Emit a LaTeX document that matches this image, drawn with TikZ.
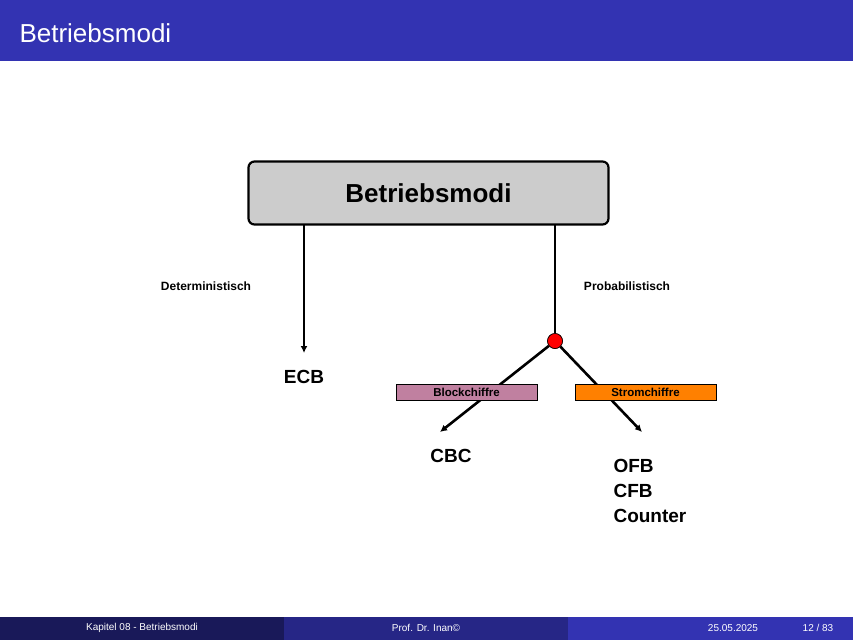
\documentclass[tikz,border=0pt]{standalone}
\usepackage{fontspec}
\setmainfont{Liberation Sans}
\usetikzlibrary{arrows.meta,positioning}
\definecolor{barblue}{RGB}{51,51,178}
\definecolor{footdark}{RGB}{25,25,89}
\definecolor{footmid}{RGB}{38,38,134}
\definecolor{boxgray}{RGB}{204,204,204}
\definecolor{blockrose}{RGB}{192,128,160}
\definecolor{stromorange}{RGB}{255,128,0}
\tikzset{
  branch/.style={line width=2.6pt, -{Latex[length=7pt,width=7pt]}},
  lbl/.style={font=\bfseries\fontsize{12}{14}\selectfont},
  mode/.style={font=\bfseries\fontsize{19}{25}\selectfont, align=left},
  tag/.style={draw, line width=0.6pt, minimum width=141pt, minimum height=16pt, inner sep=0pt, font=\bfseries\fontsize{11.5}{13}\selectfont},
  foot/.style={text=white, font=\fontsize{10}{12}\selectfont}
}
\begin{document}
\begin{tikzpicture}[x=1pt,y=-1pt]
\useasboundingbox (0,0) rectangle (853,640);
% title bar
\fill[barblue] (0,0) rectangle (853,61);
\node[text=white, anchor=west, font=\fontsize{26}{30}\selectfont] (title) at (16,33) {Betriebsmodi};
% footer
\fill[footdark] (0,617) rectangle (284,640);
\fill[footmid] (284,617) rectangle (568,640);
\fill[barblue] (568,617) rectangle (853,640);
\node[foot] (f1) at (142,628) {Kapitel 08 - Betriebsmodi};
\node[foot] (f2) at (426,628) {Prof. Dr. Inan©};
\node[foot] (f3) at (733,628) {25.05.2025};
\node[foot] (f4) at (818,628) {12 / 83};
% main box
\node[draw, line width=2.2pt, fill=boxgray, rounded corners=6pt, minimum width=360pt, minimum height=63pt,
  font=\bfseries\fontsize{26}{30}\selectfont] (root) at (428.5,193) {Betriebsmodi};
\coordinate (lt) at (304,225);
\coordinate (rt) at (555,225);
\coordinate (lend) at (304,353);
\node[circle, fill=red, draw, line width=0.6pt, minimum size=15pt, inner sep=0pt] (fork) at (555,341) {};
\coordinate (cbcend) at (440,432);
\coordinate (ofbend) at (642,432);
\draw[branch] (lt) -- (lend);
\draw[line width=2.6pt] (rt) -- (fork.north);
\draw[branch] (fork) -- (cbcend);
\draw[branch] (fork) -- (ofbend);
\node[fill=red, draw, circle, line width=0.6pt, minimum size=15pt, inner sep=0pt] at (fork) {};
% labels
\node[lbl] (det) at (206,286) {Deterministisch};
\node[lbl] (prob) at (627,286) {Probabilistisch};
\node[tag, fill=blockrose] (block) at (466.5,392) {Blockchiffre};
\node[tag, fill=stromorange] (strom) at (645.5,392) {Stromchiffre};
% modes
\node[mode] (ecb) at (304,377) {ECB};
\node[mode] (cbc) at (451,456) {CBC};
\node[mode, anchor=north west] (ofb) at (610,456) {OFB\\CFB\\Counter};
\end{tikzpicture}
\end{document}
